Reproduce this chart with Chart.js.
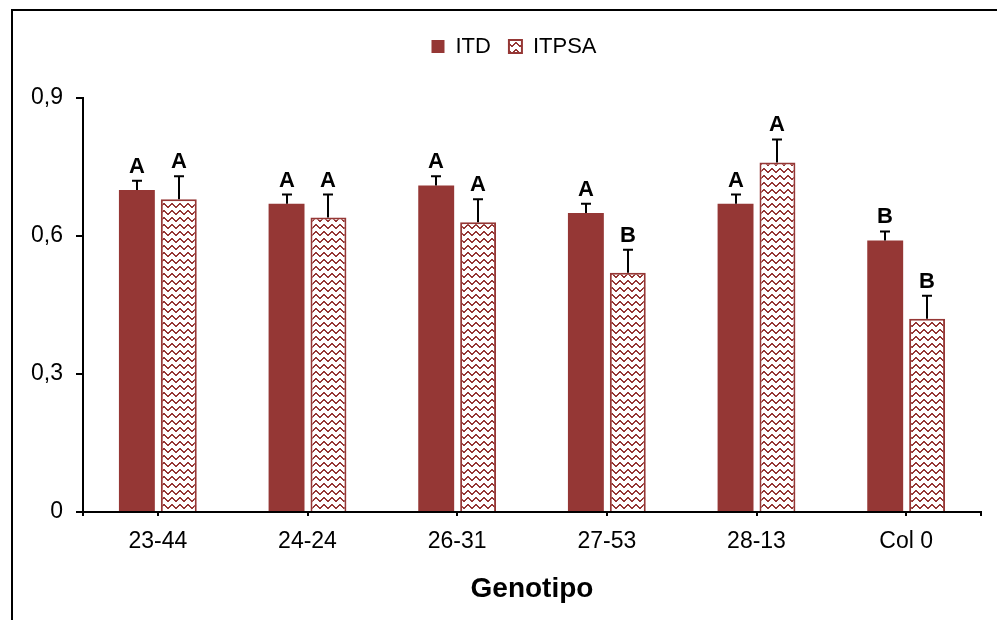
<!DOCTYPE html>
<html><head><meta charset="utf-8">
<script src="https://cdn.jsdelivr.net/npm/chart.js@4.4.1/dist/chart.umd.min.js"></script>
<style>
html,body{margin:0;padding:0;background:#fff;overflow:hidden;width:997px;height:620px}
#frame{position:absolute;left:11px;top:9px;width:1200px;height:900px;border-left:2px solid #000;border-top:2px solid #000}
#c{position:absolute;left:0;top:0}
</style></head><body>
<div id="frame"></div>
<canvas id="c" width="997" height="620"></canvas>
<script>
const categories = ['23-44','24-24','26-31','27-53','28-13','Col 0'];
const seriesNames = ['ITD','ITPSA'];
const itd = [0.70,0.67,0.71,0.65,0.67,0.59];
const itdErr = [0.02,0.02,0.02,0.02,0.02,0.02];
const itdLetters = ['A','A','A','A','A','B'];
const itpsa = [0.68,0.64,0.63,0.52,0.76,0.42];
const itpsaErr = [0.05,0.05,0.05,0.05,0.05,0.05];
const itpsaLetters = ['A','A','A','B','A','B'];
const yTicks = [0,0.3,0.6,0.9];
const xTitle = 'Genotipo';

const RED = '#953735';
const FONT = 'Liberation Sans';
Chart.defaults.font.family = FONT;
Chart.defaults.color = '#000';

function makeZigzag(color){
  const t=document.createElement('canvas'); t.width=8; t.height=7;
  const g=t.getContext('2d');
  g.fillStyle='#fff'; g.fillRect(0,0,8,7);
  g.fillStyle=color;
  const ys=[3,2,1,0,0,1,2,3];
  ys.forEach((y,x)=>g.fillRect(x,y,1,2));
  return g.createPattern(t,'repeat');
}
const zig = makeZigzag(RED);

const errPlugin = {
  id:'errs',
  beforeLayout(chart){
    const lg = chart.legend;
    if (lg && !lg._patched){
      const f = lg.fit;
      lg.fit = function(){ f.call(this); this.height += 30.5; };
      lg._patched = true;
    }
  },
  afterLayout(chart){
    if (chart.legend) chart.legend.left += 47;
  },
  afterDatasetsDraw(chart){
    const ctx=chart.ctx, ys=chart.scales.y, ca=chart.chartArea;
    const sets=[[itd,itdErr,itdLetters],[itpsa,itpsaErr,itpsaLetters]];
    ctx.save();
    ctx.strokeStyle='#000'; ctx.lineWidth=2;
    ctx.fillStyle='#000';
    ctx.font='bold 22px "'+FONT+'"';
    ctx.textAlign='center'; ctx.textBaseline='alphabetic';
    sets.forEach(([vals,errs,lets],di)=>{
      chart.getDatasetMeta(di).data.forEach((bar,i)=>{
        const x=Math.round(bar.x);
        const yTop=ys.getPixelForValue(vals[i]+errs[i]);
        ctx.beginPath();
        ctx.moveTo(x,bar.y); ctx.lineTo(x,yTop);
        ctx.moveTo(x-5,yTop); ctx.lineTo(x+5,yTop);
        ctx.stroke();
        ctx.fillText(lets[i], x, yTop-8);
      });
    });
    ctx.beginPath();
    ctx.moveTo(ca.left,ca.bottom); ctx.lineTo(ca.left,ca.bottom+4);
    ctx.moveTo(ca.right,ca.bottom); ctx.lineTo(ca.right,ca.bottom+4);
    ctx.stroke();
    ctx.restore();
  }
};

new Chart(document.getElementById('c'), {
  type:'bar',
  data:{
    labels:categories,
    datasets:[
      {label:seriesNames[0], data:itd, backgroundColor:RED, borderColor:RED, borderWidth:0,
       categoryPercentage:0.56, barPercentage:0.857},
      {label:seriesNames[1], data:itpsa, backgroundColor:zig, borderColor:RED, borderWidth:2,
       categoryPercentage:0.56, barPercentage:0.857}
    ]
  },
  options:{
    responsive:false, animation:false, devicePixelRatio:1,
    layout:{padding:{left:0,right:16,top:17.5,bottom:0}},
    plugins:{
      legend:{position:'top', labels:{font:{size:22}, color:'#000', boxWidth:13, boxHeight:13, padding:18}},
      tooltip:{enabled:false}
    },
    scales:{
      x:{
        grid:{display:true, drawOnChartArea:false, offset:false, tickLength:4, color:'#000', lineWidth:2},
        border:{display:true, color:'#000', width:2},
        ticks:{font:{size:23}, color:'#000', padding:12},
        title:{display:true, text:xTitle, font:{size:28, weight:'bold'}, color:'#000', padding:{top:0,bottom:14}},
        afterFit:s=>{ s.height=108; }
      },
      y:{
        min:0, max:0.9,
        afterBuildTicks:s=>{ s.ticks = yTicks.map(v=>({value:v})); },
        grid:{display:true, drawOnChartArea:false, tickLength:7, color:'#000', lineWidth:2},
        border:{display:true, color:'#000', width:2},
        ticks:{font:{size:23}, color:'#000', padding:13,
          callback:v=> v===0 ? '0' : v.toFixed(1).replace('.',',')},
        afterFit:s=>{ s.width=83; }
      }
    }
  },
  plugins:[errPlugin]
});
</script>
</body></html>
